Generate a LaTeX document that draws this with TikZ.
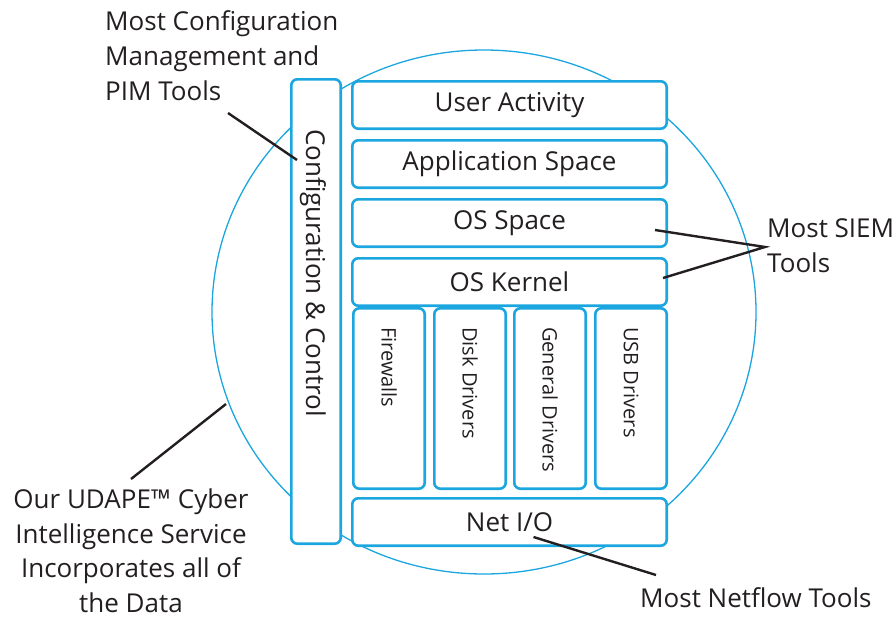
\documentclass[tikz,border=0pt]{standalone}
\usepackage{fontspec}
\setmainfont{Open Sans}
\definecolor{udblue}{RGB}{28,166,223}
\definecolor{inkgray}{RGB}{35,31,32}
\tikzset{
  layerbox/.style={draw=udblue, line width=2.6pt, rounded corners=6pt, fill=white, inner sep=0pt, minimum width=314.4pt, minimum height=47.4pt, font=\fontsize{26}{30}\selectfont, text=inkgray},
  drvbox/.style={draw=udblue, line width=2.6pt, rounded corners=6pt, fill=white, minimum width=71.4pt, minimum height=180.4pt},
  drvlabel/.style={rotate=-90, anchor=west, inner sep=0pt, font=\fontsize{20}{24}\selectfont, text=inkgray},
  note/.style={inner sep=0pt, font=\fontsize{26}{35}\selectfont, text=inkgray},
  pointer/.style={draw=inkgray, line width=2.4pt}
}
\begin{document}
\begin{tikzpicture}[x=1pt, y=-1pt]
\useasboundingbox (0,0) rectangle (896,618);
\draw [udblue, line width=1.3pt] (484,312) ellipse [x radius=272pt, y radius=262pt];
\node [layerbox, minimum width=49.4pt, minimum height=464.4pt] (cfg) at (316,311.5) {};
\node [note, rotate=-90] (cfglabel) at (313,273) {Configuration \& Control};
\node [layerbox] (user) at (509.5,105) {User Activity};
\node [layerbox] (app) at (509.5,164) {Application Space};
\node [layerbox] (osspace) at (509.5,223) {OS Space};
\node [layerbox] (kernel) at (509.5,282) {OS Kernel};
\node [drvbox] (fw) at (389,398.5) {};
\node [drvbox] (disk) at (470,398.5) {};
\node [drvbox] (gen) at (550,398.5) {};
\node [drvbox] (usb) at (631,398.5) {};
\node [drvlabel] at ([yshift=-20pt]fw.north) {Firewalls};
\node [drvlabel] at ([yshift=-20pt]disk.north) {Disk Drivers};
\node [drvlabel] at ([yshift=-20pt]gen.north) {General Drivers};
\node [drvlabel] at ([yshift=-20pt]usb.north) {USB Drivers};
\node [layerbox] (net) at (509.5,522) {Net I/O};
\node [note, anchor=north west, align=left] (cfgnote) at (105,10) {Most Configuration\\Management and\\PIM Tools};
\node [note, anchor=north west, align=left] (siemnote) at (767,218) {Most SIEM\\Tools};
\node [note, anchor=north west] (netnote) at (640,587) {Most Netflow Tools};
\node [note, anchor=north, align=center, font=\fontsize{26}{34.5}\selectfont] (udapenote) at (131,489) {Our UDAPE™ Cyber\\Intelligence Service\\Incorporates all of\\the Data};
\coordinate (cfgfoot) at (228,113);
\coordinate (siemtip) at (765,247);
\coordinate (ringpt) at (226,404);
\draw [pointer] (cfgfoot) -- ([xshift=7pt,yshift=-82pt]cfg.north west);
\draw [pointer] ([xshift=-13pt,yshift=-7pt]osspace.east) -- (siemtip) -- ([xshift=-5pt,yshift=4pt]kernel.east);
\draw [pointer] ([xshift=24pt,yshift=-15pt]net.center) -- ([xshift=16pt,yshift=12pt]netnote.north west);
\draw [pointer] ([yshift=10pt]udapenote.north) -- (ringpt);
\end{tikzpicture}
\end{document}
